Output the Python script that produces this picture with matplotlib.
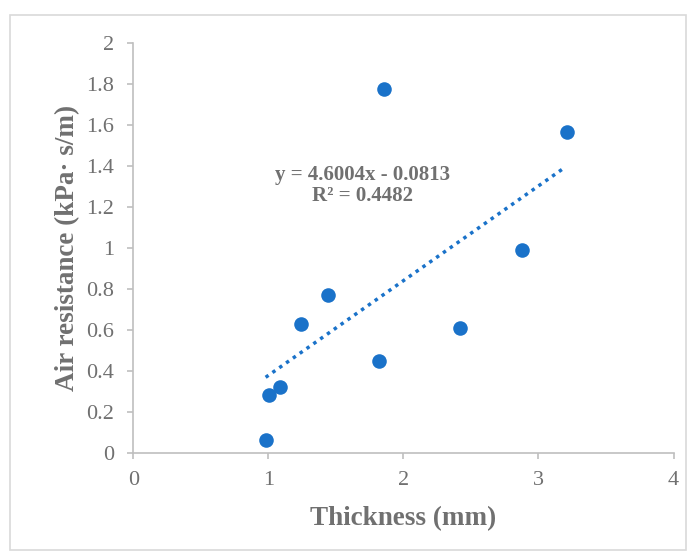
import numpy as np
import matplotlib
matplotlib.use("Agg")
import matplotlib.pyplot as plt
from matplotlib.patches import Rectangle
from matplotlib.transforms import IdentityTransform

thickness = [0.98, 1.005, 1.085, 1.24, 1.44, 1.82, 1.86, 2.42, 2.875, 3.215]
air_res = [0.06, 0.28, 0.32, 0.63, 0.77, 0.45, 1.775, 0.61, 0.99, 1.565]
x_ticks = [0, 1, 2, 3, 4]
y_ticks = [0, 0.2, 0.4, 0.6, 0.8, 1, 1.2, 1.4, 1.6, 1.8, 2]
y_tick_labels = ["0", "0.2", "0.4", "0.6", "0.8", "1", "1.2", "1.4", "1.6", "1.8", "2"]
eq_text = "y = 4.6004x - 0.0813\nR² = 0.4482"

plt.rcParams['font.family'] = ['Liberation Serif', 'DejaVu Serif']
gray = '#707070'
axc = '#bfbfbf'
blue = '#1a72c9'

fig = plt.figure(figsize=(6.95, 5.6), dpi=100)
fig.patches.append(Rectangle((9.5/695, 1-550/560), 676/695, 535/560, transform=fig.transFigure,
                             fill=False, edgecolor='#d9d9d9', linewidth=1.2))
ax = fig.add_axes([133.3/695, 1-452.7/560, (673.5-133.3)/695, (452.7-43.3)/560])

ax.scatter(thickness, air_res, s=110, color=blue, zorder=3, linewidths=0)

coef = np.polyfit(thickness, air_res, 1)
xs = np.array([min(thickness), max(thickness) - 0.04])
ax.plot(xs, np.polyval(coef, xs), linestyle=(0, (1, 1.4)), color=blue, linewidth=2.5, zorder=2)

ax.set_xlim(0, 4)
ax.set_ylim(0, 2)
ax.set_xticks(x_ticks)
ax.set_yticks(y_ticks)
ax.set_yticklabels(y_tick_labels)
for s in ['top', 'right']:
    ax.spines[s].set_visible(False)
for s in ['left', 'bottom']:
    ax.spines[s].set_color(axc)
    ax.spines[s].set_linewidth(1.2)
ax.tick_params(axis='both', colors=axc, labelcolor=gray, labelsize=16, length=4, width=1.2)
ax.tick_params(axis='y', pad=10)
ax.tick_params(axis='x', pad=9.5)

ax.set_xlabel("Thickness (mm)", fontsize=19.5, fontweight='bold', color=gray, labelpad=11)
ax.set_ylabel("Air resistance (kPa· s/m)", fontsize=19.5, fontweight='bold', color=gray, labelpad=4)

ax.text(362.5, 560 - 185.5, eq_text, transform=IdentityTransform(), fontsize=15, fontweight='bold',
        color=gray, ha='center', va='center', linespacing=1.1)

fig.savefig("out.png", dpi=100)
